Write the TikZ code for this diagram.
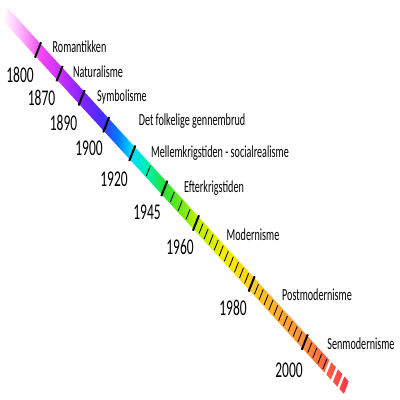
\documentclass[tikz,border=0pt]{standalone}
\usepackage{fontspec}
\setmainfont{Carlito}[FakeStretch=0.6]
\usepackage{xcolor}
\usepackage{tikz}

\definecolor{tlpink}{RGB}{255,175,255}
\definecolor{tlmagenta}{RGB}{240,70,240}
\definecolor{tlpurple}{RGB}{200,50,255}
\definecolor{tlviolet}{RGB}{140,35,255}
\definecolor{tlindigo}{RGB}{70,45,255}
\definecolor{tlblue}{RGB}{0,120,255}
\definecolor{tlcyan}{RGB}{0,220,255}
\definecolor{tlaqua}{RGB}{0,240,170}
\definecolor{tlgreen}{RGB}{40,225,60}
\definecolor{tlleaf}{RGB}{110,235,20}
\definecolor{tllime}{RGB}{190,240,0}
\definecolor{tlyellow}{RGB}{250,235,0}
\definecolor{tlamber}{RGB}{255,205,30}
\definecolor{tlorange}{RGB}{255,170,50}
\definecolor{tlcoral}{RGB}{255,140,60}
\definecolor{tlsalmon}{RGB}{255,95,65}
\definecolor{tlred}{RGB}{255,50,70}

\pgfdeclarehorizontalshading{spectrum}{100bp}{%
  color(0bp)=(white); color(25bp)=(white);
  color(27.6bp)=(tlpink); color(30.5bp)=(tlmagenta);
  color(33.1bp)=(tlpurple); color(36.1bp)=(tlviolet);
  color(39.3bp)=(tlindigo); color(41.5bp)=(tlblue);
  color(43.6bp)=(tlcyan); color(45.9bp)=(tlaqua);
  color(48.2bp)=(tlgreen); color(50.7bp)=(tlleaf);
  color(52.9bp)=(tllime); color(57.6bp)=(tlyellow);
  color(61bp)=(tlamber); color(65bp)=(tlorange);
  color(68.8bp)=(tlcoral); color(71.9bp)=(tlsalmon);
  color(75bp)=(tlred); color(100bp)=(tlred)}

\begin{document}
\begin{tikzpicture}[x=0.025cm, y=-0.025cm,
  major/.style={line width=1.4pt},
  minor/.style={line width=0.6pt},
  era/.style={inner sep=0pt, font=\fontsize{12}{14}\selectfont},
  yr/.style={inner sep=0pt, font=\fontsize{16}{18}\selectfont}]
\useasboundingbox (0,0) rectangle (400,400);

% Bar: unit = one pixel before the horizontal squeeze, origin at the 1800 tick
\begin{scope}[shift={(38,50)}, xscale=0.6, rotate=-33.3]
 \shade[shading=spectrum] (-65,-7.5) rectangle (576,7.5)
  (580,-7.5) rectangle (589,7.5)
  (593,-7.5) rectangle (602,7.5)
  (606,-7.5) rectangle (615,7.5);

 % minor ticks
 \foreach \s in {220,267.75,283.5,299.25}
  \draw[minor] (\s,-6) -- (\s,6);
 \foreach \k in {1,...,10} {
  \draw[minor] ({315+\k*10.1},-6) -- ({315+\k*10.1},6);
  \draw[minor] ({426+\k*9.64},-6) -- ({426+\k*9.64},6);
 }
 \foreach \k in {1,...,4}
  \draw[minor] ({532+\k*10},-6) -- ({532+\k*10},6);

 % major ticks
 \foreach \s in {0,43,87,136,188,252,315,426,532}
  \draw[major] (\s,-9.2) -- (\s,9.2);
\end{scope}

% Years
\node[yr] (y1800) at (20,74.5) {1800};
\node[yr] (y1870) at (41.5,98) {1870};
\node[yr] (y1890) at (63.5,123) {1890};
\node[yr] (y1900) at (89,148) {1900};
\node[yr] (y1920) at (114,179) {1920};
\node[yr] (y1945) at (147,212) {1945};
\node[yr] (y1960) at (180,247) {1960};
\node[yr] (y1980) at (233,308) {1980};
\node[yr] (y2000) at (289,370) {2000};

% Periods
\node[era] (romantik) at (79.5,47) {Romantikken};
\node[era] (natural) at (98,72) {Naturalisme};
\node[era] (symbol) at (122,97) {Symbolisme};
\node[era] (folkelig) at (192,121) {Det folkelige gennembrud};
\node[era] (mellem) at (220,153) {Mellemkrigstiden - socialrealisme};
\node[era] (efter) at (214,188) {Efterkrigstiden};
\node[era] (modern) at (253,235) {Modernisme};
\node[era] (postmod) at (317,295) {Postmodernisme};
\node[era] (senmod) at (361,344) {Senmodernisme};
\end{tikzpicture}
\end{document}
